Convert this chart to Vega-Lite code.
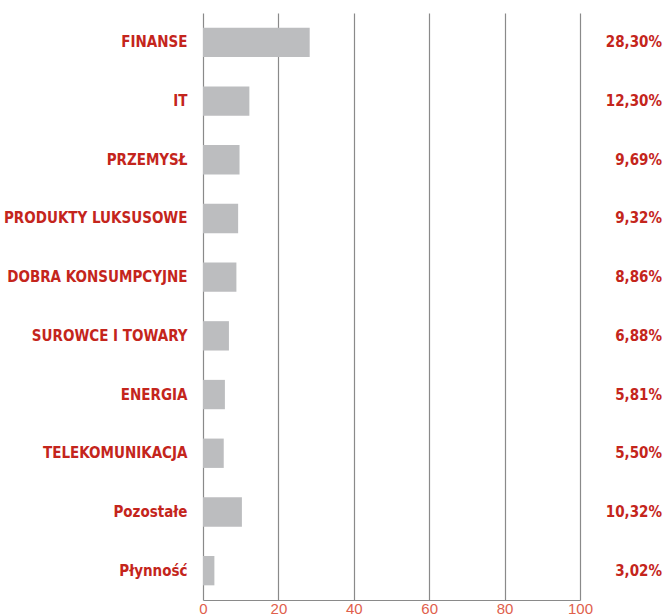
{
  "$schema": "https://vega.github.io/schema/vega-lite/v6.json",
  "width": 377,
  "height": 587,
  "autosize": "none",
  "padding": {"left": 203, "top": 13, "right": 87, "bottom": 15},
  "background": "white",
  "config": {"view": {"stroke": null}},
  "data": {
    "values": [
      {"name": "FINANSE", "value": 28.30, "label": "28,30%"},
      {"name": "IT", "value": 12.30, "label": "12,30%"},
      {"name": "PRZEMYSŁ", "value": 9.69, "label": "9,69%"},
      {"name": "PRODUKTY LUKSUSOWE", "value": 9.32, "label": "9,32%"},
      {"name": "DOBRA KONSUMPCYJNE", "value": 8.86, "label": "8,86%"},
      {"name": "SUROWCE I TOWARY", "value": 6.88, "label": "6,88%"},
      {"name": "ENERGIA", "value": 5.81, "label": "5,81%"},
      {"name": "TELEKOMUNIKACJA", "value": 5.50, "label": "5,50%"},
      {"name": "Pozostałe", "value": 10.32, "label": "10,32%"},
      {"name": "Płynność", "value": 3.02, "label": "3,02%"}
    ]
  },
  "encoding": {
    "y": {
      "field": "name",
      "type": "nominal",
      "sort": null,
      "scale": {"paddingInner": 0.5, "paddingOuter": 0.25},
      "axis": {
        "title": null,
        "domain": false,
        "ticks": false,
        "labelPadding": 16,
        "labelLimit": 400,
        "labelFont": "DejaVu Sans Condensed, Roboto, sans-serif",
        "labelFontWeight": "bold",
        "labelFontSize": 15,
        "labelColor": "#c4251c"
      }
    }
  },
  "layer": [
    {
      "mark": {"type": "bar", "color": "#bcbdbf"},
      "encoding": {
        "x": {
          "field": "value",
          "type": "quantitative",
          "scale": {"domain": [0, 100], "nice": false},
          "axis": {
            "title": null,
            "values": [0, 20, 40, 60, 80, 100],
            "ticks": false,
            "domainColor": "#8a8a8a",
            "domainWidth": 1.2,
            "gridColor": "#8a8a8a",
            "gridWidth": 1.2,
            "gridOpacity": 1,
            "labelColor": "#e0604c",
            "labelFont": "Liberation Sans, sans-serif",
            "labelFontSize": 15,
            "labelPadding": 1,
            "labelFlush": false
          }
        }
      }
    },
    {
      "mark": {
        "type": "text",
        "align": "right",
        "baseline": "middle",
        "dx": 82,
        "font": "DejaVu Sans Condensed, Roboto, sans-serif",
        "fontWeight": "bold",
        "fontSize": 15,
        "color": "#c4251c"
      },
      "encoding": {
        "x": {"datum": 100, "type": "quantitative"},
        "text": {"field": "label"}
      }
    }
  ]
}
